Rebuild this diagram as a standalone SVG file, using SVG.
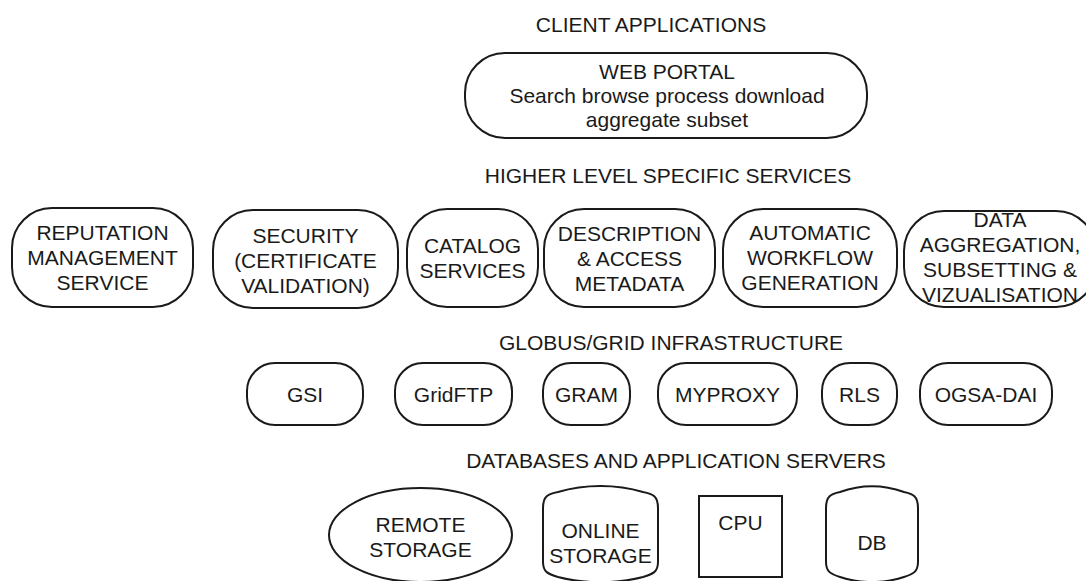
<svg xmlns="http://www.w3.org/2000/svg" width="1086" height="581" viewBox="0 0 1086 581">
<style>
text{font-family:"Liberation Sans",Arial,sans-serif;font-size:21px;fill:#1a1a1a;text-anchor:middle}
.s{fill:#fff;stroke:#1a1a1a;stroke-width:2}
</style>
<rect width="1086" height="581" fill="#fff"/>
<g id="labels">
<text x="651" y="32">CLIENT APPLICATIONS</text>
<text x="668" y="183">HIGHER LEVEL SPECIFIC SERVICES</text>
<text x="671" y="350">GLOBUS/GRID INFRASTRUCTURE</text>
<text x="676" y="468">DATABASES AND APPLICATION SERVERS</text>
</g>
<g id="connectors"></g>
<g id="web-portal">
<rect class="s" x="465" y="53" width="402" height="85" rx="40"/>
<text x="667" y="79">WEB PORTAL</text>
<text x="667" y="103">Search browse process download</text>
<text x="667" y="127">aggregate subset</text>
</g>
<g id="reputation">
<rect class="s" x="12" y="208" width="181" height="99" rx="40"/>
<text x="102.5" y="240">REPUTATION</text><text x="102.5" y="265">MANAGEMENT</text><text x="102.5" y="290">SERVICE</text>
</g>
<g id="security">
<rect class="s" x="213" y="210" width="185" height="98" rx="40"/>
<text x="305.5" y="243">SECURITY</text><text x="305.5" y="268">(CERTIFICATE</text><text x="305.5" y="293">VALIDATION)</text>
</g>
<g id="catalog">
<rect class="s" x="407" y="209" width="131" height="98" rx="40"/>
<text x="472.5" y="253">CATALOG</text><text x="472.5" y="278">SERVICES</text>
</g>
<g id="description">
<rect class="s" x="544" y="209" width="171" height="98" rx="40"/>
<text x="629.5" y="241">DESCRIPTION</text><text x="629.5" y="266">&amp; ACCESS</text><text x="629.5" y="291">METADATA</text>
</g>
<g id="automatic">
<rect class="s" x="723" y="209" width="174" height="98" rx="40"/>
<text x="810" y="240">AUTOMATIC</text><text x="810" y="265">WORKFLOW</text><text x="810" y="290">GENERATION</text>
</g>
<g id="data-aggregation">
<rect class="s" x="904" y="211" width="192" height="96" rx="40"/>
<text x="1000" y="227">DATA</text><text x="1000" y="252">AGGREGATION,</text><text x="1000" y="277">SUBSETTING &amp;</text><text x="1000" y="302">VIZUALISATION</text>
</g>
<g id="gsi"><rect class="s" x="247" y="363" width="116" height="62" rx="28"/><text x="305" y="402">GSI</text></g>
<g id="gridftp"><rect class="s" x="395" y="363" width="117" height="62" rx="28"/><text x="453.5" y="402">GridFTP</text></g>
<g id="gram"><rect class="s" x="543" y="363" width="87" height="62" rx="28"/><text x="586.5" y="402">GRAM</text></g>
<g id="myproxy"><rect class="s" x="658" y="363" width="139" height="62" rx="28"/><text x="727.5" y="402">MYPROXY</text></g>
<g id="rls"><rect class="s" x="822" y="363" width="75" height="62" rx="28"/><text x="859.5" y="402">RLS</text></g>
<g id="ogsa-dai"><rect class="s" x="920" y="363" width="132" height="62" rx="28"/><text x="986" y="402">OGSA-DAI</text></g>
<g id="remote-storage">
<ellipse class="s" cx="420.5" cy="535" rx="91.5" ry="47"/>
<text x="420.5" y="532">REMOTE</text><text x="420.5" y="557">STORAGE</text>
</g>
<g id="online-storage">
<path class="s" d="M543,508 C543,496 548,494 558,492 C585,484 616,484 643,492 C653,494 658,496 658,508 L658,562 C658,572 653,574 643,577 C616,584 585,584 558,577 C548,574 543,572 543,562 Z"/>
<text x="600.5" y="538">ONLINE</text><text x="600.5" y="563">STORAGE</text>
</g>
<g id="cpu">
<rect class="s" x="699" y="496" width="83" height="81"/>
<text x="740.5" y="530">CPU</text>
</g>
<g id="db">
<path class="s" d="M826,508 C826,496 831,494 840,492 C862,484 882,484 904,492 C913,494 918,496 918,508 L918,562 C918,572 913,574 904,577 C882,584 862,584 840,577 C831,574 826,572 826,562 Z"/>
<text x="872" y="550">DB</text>
</g>
</svg>
